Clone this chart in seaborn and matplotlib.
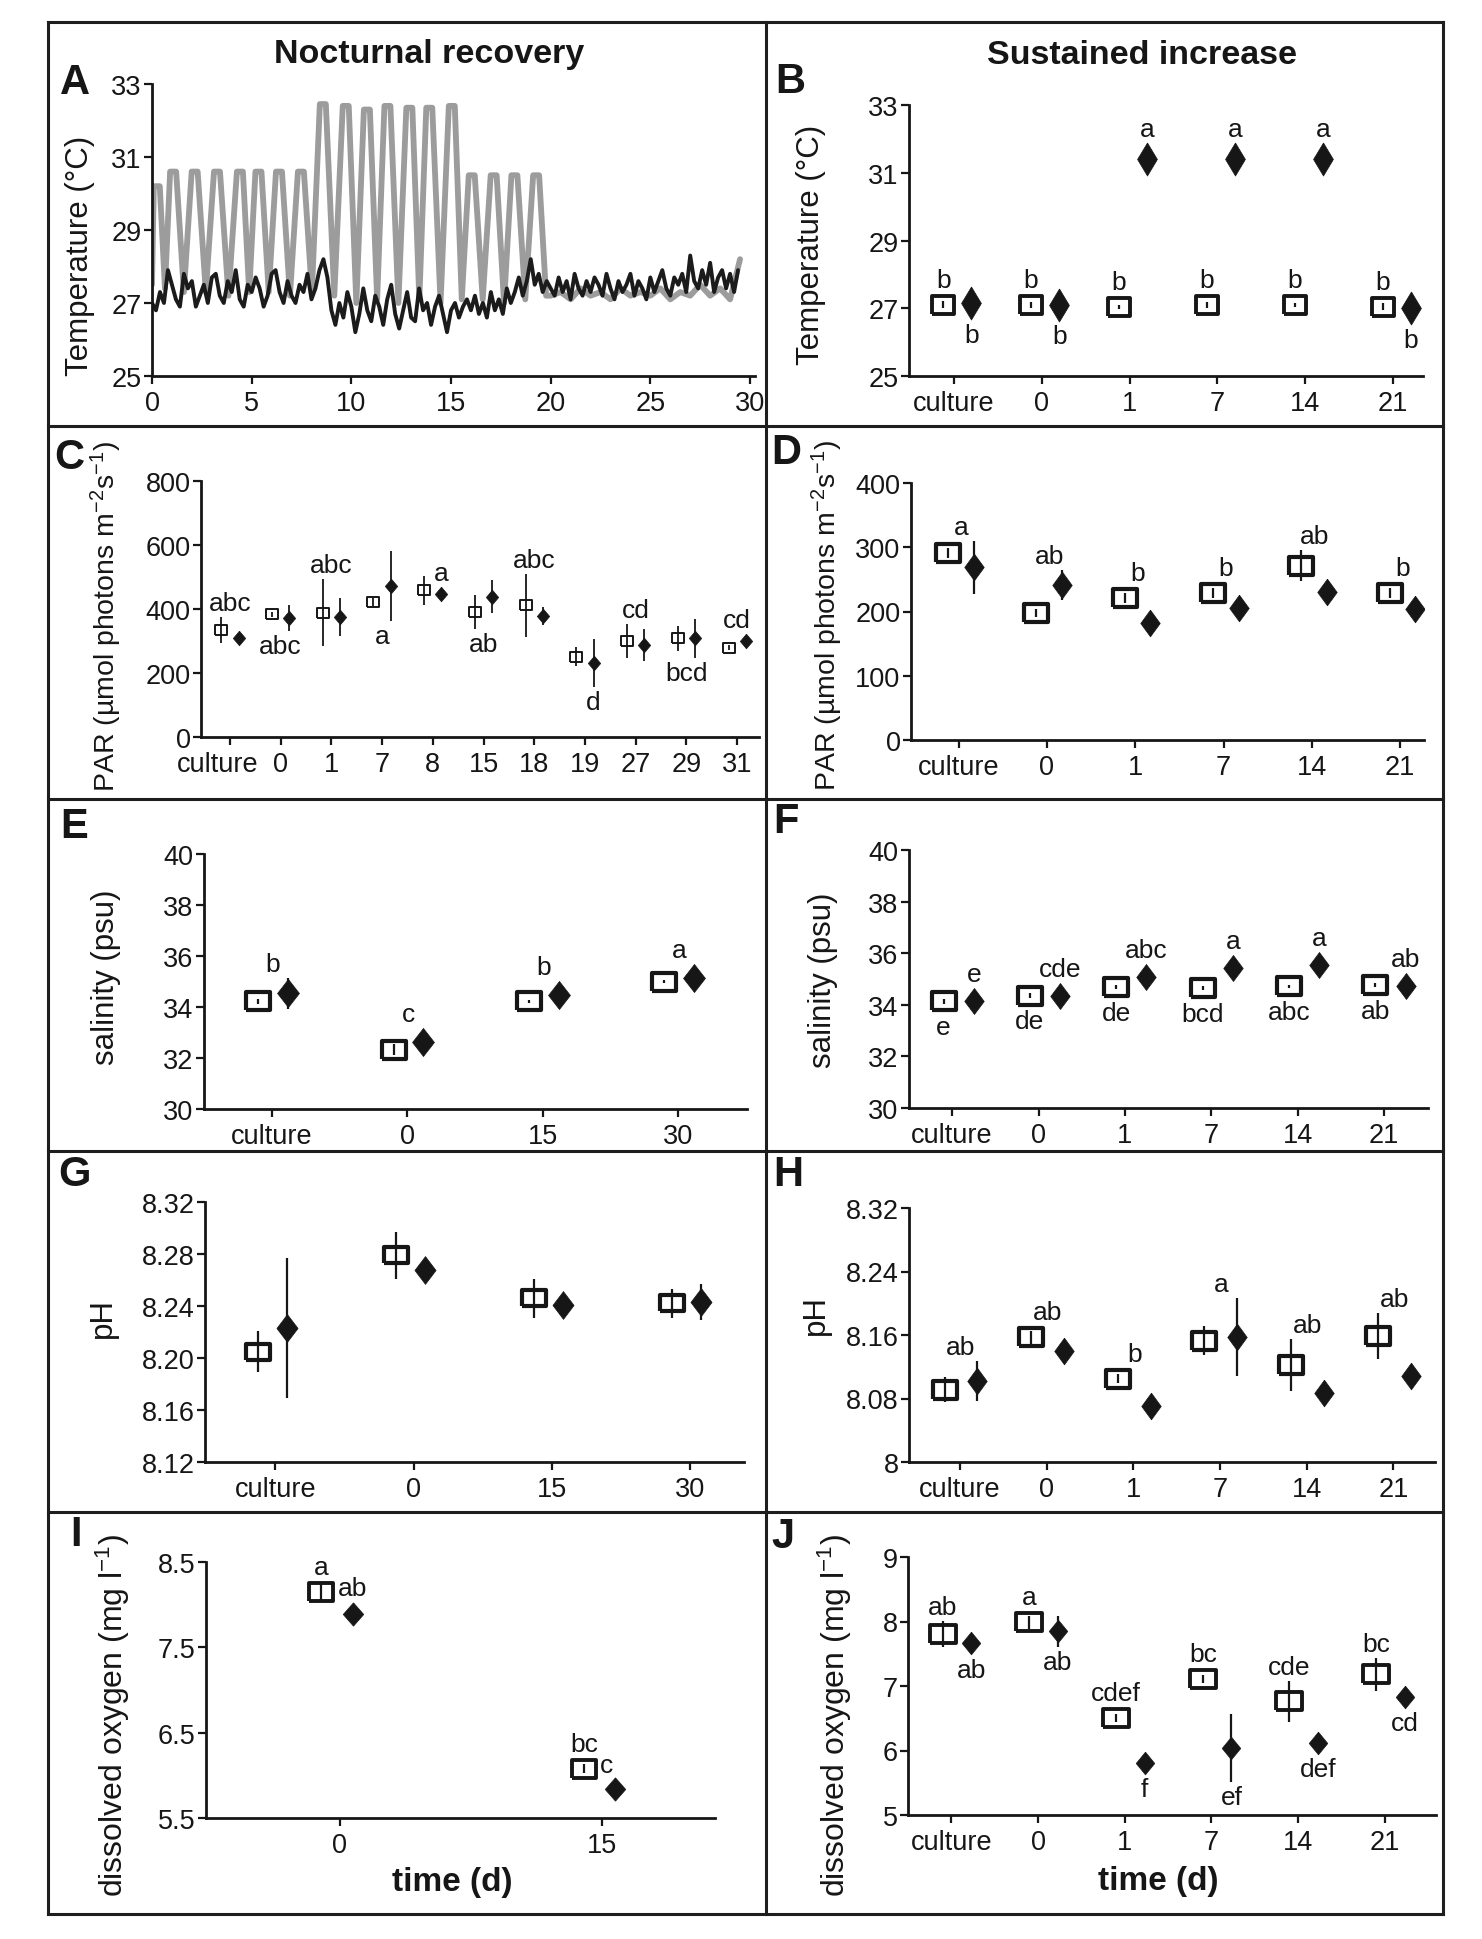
import numpy as np
import matplotlib
matplotlib.use("Agg")
import matplotlib.pyplot as plt
from matplotlib.lines import Line2D
from matplotlib.transforms import ScaledTranslation
import seaborn as sns

# ---------------- data ----------------
# A: logger temperature (days, deg C)
gray_peak_day = [0.24, 1.06, 2.14, 3.26, 4.41, 5.34, 6.37, 7.47, 8.57, 9.72,
                 10.78, 11.81, 12.91, 13.91, 15.04, 16.04, 17.14, 18.18, 19.27]
gray_peak_temp = [30.2, 30.6, 30.6, 30.6, 30.6, 30.6, 30.6, 30.6, 32.45, 32.4,
                  32.3, 32.4, 32.35, 32.35, 32.4, 30.5, 30.5, 30.5, 30.5]
gray_trough_temp = [27.4, 27.3, 27.3, 27.2, 27.3, 27.3, 27.2, 27.3, 27.2, 27.0,
                    27.1, 27.0, 27.1, 27.0, 27.1, 27.1, 27.0, 27.1, 27.2]
# day 20 .. 29.5, every half day
gray_tail_temp = [27.2, 27.3, 27.1, 27.4, 27.2, 27.3, 27.1, 27.4, 27.2, 27.3,
                  27.2, 27.4, 27.1, 27.3, 27.2, 27.5, 27.2, 27.4, 27.1, 28.2]
# day 0 .. 29.4, every 0.2 day
black_temp = [27.0, 26.8, 27.3, 27.0, 27.9, 27.5, 27.1, 26.9, 27.8, 27.4,
              27.6, 26.9, 27.2, 27.5, 27.0, 27.7, 27.8, 27.2, 27.0, 27.6,
              27.3, 27.9, 27.1, 26.9, 27.5, 27.3, 27.7, 27.4, 26.9, 27.2,
              27.8, 27.9, 27.3, 27.0, 27.6, 27.2, 27.0, 27.5, 27.3, 27.8,
              27.1, 27.4, 27.9, 28.2, 27.7,
              26.8, 26.4, 27.0, 26.6, 27.3, 26.9, 26.2, 26.7, 27.4, 26.8,
              26.5, 27.2, 26.9, 26.4, 27.1, 27.5, 26.7, 26.3, 26.8, 27.3,
              26.6, 26.5, 27.4, 26.8, 27.0, 26.4, 26.9, 27.2, 26.7, 26.2,
              26.8, 27.0, 26.6, 26.9, 27.1,
              26.8, 27.2, 26.7, 27.0, 26.6, 27.3, 26.8, 27.1, 26.7, 27.4,
              27.0, 27.3, 27.7, 27.2, 27.6, 28.2, 27.5, 27.8, 27.3, 27.6,
              27.4, 27.2, 27.7, 27.3, 27.6, 27.1, 27.8, 27.4, 27.2, 27.6,
              27.3, 27.7, 27.5, 27.2, 27.8, 27.4, 27.1, 27.6, 27.3, 27.5,
              27.8, 27.2, 27.6, 27.4, 27.1, 27.7, 27.3, 27.6, 27.9, 27.4,
              27.2, 27.7, 27.5, 27.8, 27.3, 28.3, 27.6, 27.4, 27.9, 27.5,
              28.1, 27.3, 27.7, 27.9, 27.4, 27.8, 27.3, 27.9]

# B: temperature, sustained increase
b_cats = ["culture", "0", "1", "7", "14", "21"]
b_ctrl = [27.1, 27.1, 27.05, 27.1, 27.1, 27.05]
b_ctrl_err = [0.1, 0.08, 0.06, 0.08, 0.06, 0.1]
b_trt = [27.15, 27.1, 31.4, 31.4, 31.4, 27.0]
b_trt_err = [0.05, 0.05, 0.05, 0.05, 0.05, 0.05]

# C: PAR, nocturnal recovery
c_cats = ["culture", "0", "1", "7", "8", "15", "18", "19", "27", "29", "31"]
c_ctrl = [334, 383, 389, 422, 458, 390, 411, 251, 300, 308, 279]
c_ctrl_err = [40, 8, 105, 12, 45, 53, 98, 30, 52, 40, 8]
c_trt = [310, 371, 375, 472, 446, 438, 378, 230, 288, 308, 300]
c_trt_err = [12, 40, 58, 110, 12, 52, 28, 75, 50, 60, 10]

# D: PAR, sustained increase
d_cats = ["culture", "0", "1", "7", "14", "21"]
d_ctrl = [291, 198, 221, 229, 271, 229]
d_ctrl_err = [8, 6, 8, 8, 24, 8]
d_trt = [269, 241, 182, 205, 231, 204]
d_trt_err = [41, 23, 5, 5, 5, 5]

# E: salinity, nocturnal recovery
e_cats = ["culture", "0", "15", "30"]
e_ctrl = [34.22, 32.33, 34.22, 35.0]
e_ctrl_err = [0.1, 0.2, 0.05, 0.05]
e_trt = [34.54, 32.61, 34.48, 35.12]
e_trt_err = [0.6, 0.1, 0.1, 0.1]

# F: salinity, sustained increase
f_cats = ["culture", "0", "1", "7", "14", "21"]
f_ctrl = [34.14, 34.36, 34.68, 34.65, 34.72, 34.77]
f_ctrl_err = [0.1, 0.08, 0.08, 0.06, 0.06, 0.08]
f_trt = [34.14, 34.36, 35.06, 35.43, 35.56, 34.72]
f_trt_err = [0.05, 0.05, 0.05, 0.05, 0.05, 0.05]

# G: pH, nocturnal recovery
g_cats = ["culture", "0", "15", "30"]
g_ctrl = [8.205, 8.279, 8.246, 8.242]
g_ctrl_err = [0.0154, 0.018, 0.015, 0.011]
g_trt = [8.223, 8.268, 8.241, 8.243]
g_trt_err = [0.054, 0.003, 0.003, 0.014]

# H: pH, sustained increase
h_cats = ["culture", "0", "1", "7", "14", "21"]
h_ctrl = [8.091, 8.157, 8.105, 8.153, 8.122, 8.159]
h_ctrl_err = [0.016, 0.008, 0.006, 0.018, 0.033, 0.029]
h_trt = [8.102, 8.140, 8.070, 8.157, 8.087, 8.108]
h_trt_err = [0.025, 0.004, 0.004, 0.049, 0.004, 0.004]

# I: dissolved oxygen, nocturnal recovery
i_cats = ["0", "15"]
i_ctrl = [8.15, 6.08]
i_ctrl_err = [0.1, 0.05]
i_trt = [7.89, 5.84]
i_trt_err = [0.03, 0.03]

# J: dissolved oxygen, sustained increase
j_cats = ["culture", "0", "1", "7", "14", "21"]
j_ctrl = [7.81, 7.99, 6.5, 7.11, 6.76, 7.18]
j_ctrl_err = [0.2, 0.1, 0.06, 0.06, 0.32, 0.26]
j_trt = [7.66, 7.85, 5.81, 6.04, 6.12, 6.83]
j_trt_err = [0.03, 0.24, 0.03, 0.53, 0.03, 0.03]

# significance letters: (category, series c/t/m, side, text)
b_notes = [(0, "c", "above", "b"), (1, "c", "above", "b"), (2, "c", "above", "b"),
           (3, "c", "above", "b"), (4, "c", "above", "b"), (5, "c", "above", "b"),
           (0, "t", "below", "b"), (1, "t", "below", "b"), (2, "t", "above", "a"),
           (3, "t", "above", "a"), (4, "t", "above", "a"), (5, "t", "below", "b")]
c_notes = [(0, "m", "above", "abc"), (1, "m", "below", "abc"), (2, "m", "above", "abc"),
           (3, "m", "below", "a"), (4, "t", "above", "a"), (5, "m", "below", "ab"),
           (6, "m", "above", "abc"), (7, "t", "below", "d"), (8, "m", "above", "cd"),
           (9, "m", "below", "bcd"), (10, "m", "above", "cd")]
d_notes = [(0, "m", "above", "a"), (1, "m", "above", "ab"), (2, "m", "above", "b"),
           (3, "m", "above", "b"), (4, "m", "above", "ab"), (5, "m", "above", "b")]
e_notes = [(0, "m", "above", "b"), (1, "m", "above", "c"), (2, "m", "above", "b"),
           (3, "m", "above", "a")]
f_notes = [(0, "c", "below", "e"), (0, "t", "above", "e"), (1, "c", "below", "de"),
           (1, "t", "above", "cde"), (2, "c", "below", "de"), (2, "t", "above", "abc"),
           (3, "c", "below", "bcd"), (3, "t", "above", "a"), (4, "c", "below", "abc"),
           (4, "t", "above", "a"), (5, "c", "below", "ab"), (5, "t", "above", "ab")]
g_notes = []
h_notes = [(0, "m", "above", "ab"), (1, "m", "above", "ab"), (2, "m", "above", "b"),
           (3, "m", "above", "a"), (4, "m", "above", "ab"), (5, "m", "above", "ab")]
i_notes = [(0, "c", "above", "a"), (0, "c", "right", "ab"), (1, "c", "above", "bc"),
           (1, "c", "right", "c")]
j_notes = [(0, "c", "above", "ab"), (0, "t", "below", "ab"), (1, "c", "above", "a"),
           (1, "t", "below", "ab"), (2, "c", "above", "cdef"), (2, "t", "below", "f"),
           (3, "c", "above", "bc"), (3, "t", "below", "ef"), (4, "c", "above", "cde"),
           (4, "t", "below", "def"), (5, "c", "above", "bc"), (5, "t", "below", "cd")]

# ---------------- style ----------------
W, H, DPI = 1482, 1940, 100
TICK_FS = 19.5
NOTE_FS = 19
INK = "#161616"

sns.set_theme(style="ticks")
plt.rcParams["font.family"] = ["Liberation Sans", "DejaVu Sans"]
plt.rcParams["mathtext.fontset"] = "custom"
plt.rcParams["mathtext.rm"] = "Liberation Sans"
plt.rcParams["mathtext.it"] = "Liberation Sans:italic"
plt.rcParams["axes.linewidth"] = 2.0
plt.rcParams["axes.edgecolor"] = INK
plt.rcParams["text.color"] = INK
plt.rcParams["xtick.color"] = INK
plt.rcParams["ytick.color"] = INK

fig = plt.figure(figsize=(W / DPI, H / DPI), dpi=DPI)


def rect(l, r, t, b):
    return [l / W, 1 - b / H, (r - l) / W, (b - t) / H]


def box_marker(aspect):
    hh = 0.5 / aspect
    return [(-0.5, -hh), (0.5, -hh), (0.5, hh), (-0.5, hh), (-0.5, -hh)]


def diamond_marker(ratio):
    hw = 0.5 * ratio
    return [(0, 0.5), (hw, 0), (0, -0.5), (-hw, 0), (0, 0.5)]


def style_axes(ax):
    sns.despine(ax=ax)
    ax.tick_params(axis="both", direction="out", length=6, width=1.6,
                   labelsize=TICK_FS)
    ax.tick_params(axis="y", pad=1.5)
    ax.tick_params(axis="x", pad=4)
    ax.set_xlabel("")
    ax.set_ylabel("")


def add_notes(ax, notes, xc, xt, ctrl, cerr, trt, terr, sq_half, sq_halfw, dm_half):
    to_px = ax.transData.transform
    inv = ax.transData.inverted().transform
    k = DPI / 72.0
    for i, which, side, lab in notes:
        if side == "right":
            ax.annotate(lab, (xc[i], ctrl[i]), xytext=(sq_halfw + 1.5, 2.5),
                        textcoords="offset points", ha="left", va="center",
                        fontsize=NOTE_FS)
            continue
        parts = []
        if which in "cm":
            parts.append((ctrl[i], cerr[i], sq_half))
        if which in "tm":
            parts.append((trt[i], terr[i], dm_half))
        if which == "c":
            x = xc[i]
        elif which == "t":
            x = xt[i]
        else:
            x = (xc[i] + xt[i]) / 2
        up = side == "above"
        edges = []
        for v, e, h in parts:
            y0 = to_px((0, v))[1]
            ep = abs(to_px((0, v + e))[1] - y0)
            reach = max(ep, h * k)
            edges.append(y0 + reach if up else y0 - reach)
        yp = max(edges) + 2 if up else min(edges) - 3
        yd = inv((0, yp))[1]
        ax.text(x, yd, lab, ha="center", va="bottom" if up else "top",
                fontsize=NOTE_FS)


def cat_panel(box, cats, ctrl, cerr, trt, terr, notes, ylim, yticks, ylabels,
              xlim, dx, sq, dm, elw=1.6):
    ax = fig.add_axes(rect(*box))
    pos = np.arange(len(cats))
    xc = pos + dx[0]
    xt = pos + dx[1]
    sq_w, sq_aspect, sq_mew = sq
    dm_h, dm_ratio = dm
    sns.scatterplot(x=xc, y=ctrl, marker=box_marker(sq_aspect), s=sq_w ** 2,
                    color="white", edgecolor=INK, linewidth=sq_mew, zorder=3,
                    legend=False, ax=ax)
    ax.errorbar(xc, ctrl, yerr=cerr, fmt="none", ecolor=INK, elinewidth=elw,
                capsize=0, zorder=4)
    ax.errorbar(xt, trt, yerr=terr, fmt="none", ecolor=INK, elinewidth=elw,
                capsize=0, zorder=4)
    sns.scatterplot(x=xt, y=trt, marker=diamond_marker(dm_ratio), s=dm_h ** 2,
                    color=INK, edgecolor=INK, linewidth=0.5, zorder=5,
                    legend=False, ax=ax)
    ax.set_xlim(*xlim)
    ax.set_ylim(*ylim)
    ax.set_xticks(pos)
    ax.set_xticklabels(cats)
    ax.set_yticks(yticks)
    ax.set_yticklabels(ylabels)
    style_axes(ax)
    add_notes(ax, notes, xc, xt, ctrl, cerr, trt, terr,
              sq_w / sq_aspect / 2 + sq_mew / 2, sq_w / 2 + sq_mew / 2, dm_h / 2)
    return ax


# ---------------- panel A ----------------
gray_t, gray_v = [0.0], [27.5]
n_pk = len(gray_peak_day)
for j in range(n_pk):
    tp = gray_peak_day[j]
    gray_t += [tp - 0.15, tp + 0.15]
    gray_v += [gray_peak_temp[j], gray_peak_temp[j]]
    t_next = gray_peak_day[j + 1] if j + 1 < n_pk else tp + 1.0
    gray_t.append((tp + t_next) / 2)
    gray_v.append(gray_trough_temp[j])
gray_t += list(20.0 + 0.5 * np.arange(len(gray_tail_temp)))
gray_v += gray_tail_temp
black_t = 0.2 * np.arange(len(black_temp))

axA = fig.add_axes(rect(152, 755, 85, 377))
sns.lineplot(x=gray_t, y=gray_v, color="#9c9c9c", linewidth=4.2, sort=False,
             estimator=None, ax=axA)
sns.lineplot(x=black_t, y=black_temp, color="#1b1b1b", linewidth=2.8,
             sort=False, estimator=None, ax=axA)
axA.set_xlim(0, 30.25)
axA.set_ylim(25, 33)
axA.set_xticks([0, 5, 10, 15, 20, 25, 30])
axA.set_yticks([25, 27, 29, 31, 33])
style_axes(axA)

# ---------------- categorical panels ----------------
int_lab = lambda v: [str(x) for x in v]

cat_panel((909, 1423, 106, 377), b_cats, b_ctrl, b_ctrl_err, b_trt, b_trt_err,
          b_notes, (25, 33), [25, 27, 29, 31, 33], int_lab([25, 27, 29, 31, 33]),
          (-0.51, 5.34), (-0.12, 0.2), (15.9, 1.22, 2.8), (23.8, 0.6))

axC = cat_panel((201, 759, 482, 738), c_cats, c_ctrl, c_ctrl_err, c_trt, c_trt_err,
                c_notes, (0, 800), [0, 200, 400, 600, 800],
                int_lab([0, 200, 400, 600, 800]),
                (-0.57, 10.43), (-0.17, 0.17), (8.8, 1.2, 1.4), (10.5, 0.85),
                elw=1.3)
# "culture" sits a little left of its tick in panel C
first = axC.get_xticklabels()[0]
first.set_transform(first.get_transform()
                    + ScaledTranslation(-12 / DPI, 0, fig.dpi_scale_trans))

cat_panel((911, 1424, 484, 741), d_cats, d_ctrl, d_ctrl_err, d_trt, d_trt_err,
          d_notes, (0, 400), [0, 100, 200, 300, 400],
          int_lab([0, 100, 200, 300, 400]),
          (-0.54, 5.27), (-0.12, 0.17), (17.9, 1.45, 3), (19.2, 0.73))

cat_panel((204, 747, 855, 1110), e_cats, e_ctrl, e_ctrl_err, e_trt, e_trt_err,
          e_notes, (30, 40), [30, 32, 34, 36, 38, 40],
          int_lab([30, 32, 34, 36, 38, 40]),
          (-0.5, 3.51), (-0.1, 0.12), (17.9, 1.39, 3), (20.2, 0.78))

cat_panel((909, 1428, 851, 1109), f_cats, f_ctrl, f_ctrl_err, f_trt, f_trt_err,
          f_notes, (30, 40), [30, 32, 34, 36, 38, 40],
          int_lab([30, 32, 34, 36, 38, 40]),
          (-0.5, 5.51), (-0.1, 0.25), (17.9, 1.45, 3), (18.7, 0.75))

cat_panel((205, 744, 1203, 1463), g_cats, g_ctrl, g_ctrl_err, g_trt, g_trt_err,
          g_notes, (8.12, 8.32), [8.12, 8.16, 8.20, 8.24, 8.28, 8.32],
          ["8.12", "8.16", "8.20", "8.24", "8.28", "8.32"],
          (-0.51, 3.39), (-0.13, 0.08), (17.5, 1.45, 3), (20.0, 0.76))

cat_panel((909, 1435, 1209, 1463), h_cats, h_ctrl, h_ctrl_err, h_trt, h_trt_err,
          h_notes, (8.0, 8.32), [8.0, 8.08, 8.16, 8.24, 8.32],
          ["8", "8.08", "8.16", "8.24", "8.32"],
          (-0.59, 5.48), (-0.18, 0.2), (17.2, 1.35, 3), (19.2, 0.73))

cat_panel((206, 715, 1563, 1819), i_cats, i_ctrl, i_ctrl_err, i_trt, i_trt_err,
          i_notes, (5.5, 8.5), [5.5, 6.5, 7.5, 8.5], ["5.5", "6.5", "7.5", "8.5"],
          (-0.51, 1.43), (-0.07, 0.05), (17.9, 1.4, 2.8), (16.8, 0.88))

cat_panel((908, 1436, 1558, 1816), j_cats, j_ctrl, j_ctrl_err, j_trt, j_trt_err,
          j_notes, (5, 9), [5, 6, 7, 8, 9], int_lab([5, 6, 7, 8, 9]),
          (-0.5, 5.59), (-0.1, 0.23), (18.5, 1.45, 2.8), (16.3, 0.82))

# ---------------- texts ----------------
def ftext(x, y, s, **kw):
    fig.text(x / W, 1 - y / H, s, ha="center", va="center", **kw)


ftext(429, 55, "Nocturnal recovery", fontsize=24.5, fontweight="bold")
ftext(1142, 55, "Sustained increase", fontsize=24.5, fontweight="bold")

for lab, x, y in [("A", 75, 83), ("B", 790, 82), ("C", 69, 458), ("D", 786, 453),
                  ("E", 74, 827), ("F", 786, 822), ("G", 74, 1175), ("H", 788, 1175),
                  ("I", 76, 1535), ("J", 783, 1537)]:
    ftext(x, y, lab, fontsize=30, fontweight="bold")

temp_lab = "Temperature (\u00b0C)"
par_lab = "PAR (\u00b5mol photons m$^{-2}$s$^{-1}$)"
sal_lab = "salinity (psu)"
do_lab = "dissolved oxygen (mg l$^{-1}$)"
for lab, x, y, fs in [(temp_lab, 80, 256, 22.5), (temp_lab, 811, 245, 22.5),
                      (par_lab, 106, 617, 20.5), (par_lab, 827, 616, 20.5),
                      (sal_lab, 106, 977, 22.5), (sal_lab, 823, 980, 22.5),
                      ("pH", 103, 1318, 22.5), ("pH", 816, 1315, 22.5),
                      (do_lab, 113, 1716, 23), (do_lab, 835, 1716, 23)]:
    ftext(x, y, lab, fontsize=fs, rotation=90)

ftext(452, 1883, "time (d)", fontsize=24, fontweight="bold")
ftext(1158, 1882, "time (d)", fontsize=24, fontweight="bold")

# ---------------- panel frames ----------------
def fig_line(x0, y0, x1, y1):
    fig.add_artist(Line2D([x0 / W, x1 / W], [1 - y0 / H, 1 - y1 / H],
                          transform=fig.transFigure, color="#1e1e1e",
                          linewidth=2.2, solid_capstyle="projecting"))


L, R, T, B = 48, 1443, 23, 1915
fig_line(L, T, R, T)
fig_line(L, B, R, B)
fig_line(L, T, L, B)
fig_line(R, T, R, B)
fig_line(766, T, 766, B)
for yy in [427, 800, 1152, 1513]:
    fig_line(L, yy, R, yy)

fig.savefig("out.png", dpi=DPI)
